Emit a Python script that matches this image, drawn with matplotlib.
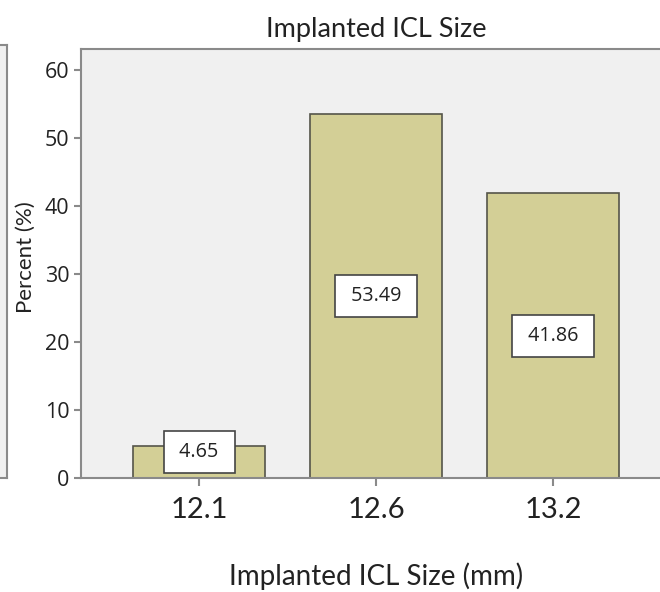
import numpy as np
import matplotlib.pyplot as plt

plt.rcParams['font.family'] = ['Open Sans', 'DejaVu Sans']

sizes = ["12.1", "12.6", "13.2"]          # ICL size (mm)
percent = [4.65, 53.49, 41.86]            # Percent of eyes
yticks = [0, 10, 20, 30, 40, 50, 60]

bar_color = "#d3cf96"
edge_col = "#55554a"
bg = "#f0f0f0"
spine_col = "#8a8a8a"
txt = "#222222"
calib = ['Lato', 'DejaVu Sans']

fig = plt.figure(figsize=(6.6, 5.92), dpi=100)
W, H = 660, 592

# piece of the neighbouring panel at the far left
ax0 = fig.add_axes([-0.1, (H - 478) / H, 0.1 + 7 / W, (478 - 45) / H])
ax0.set_facecolor(bg)
ax0.set_xticks([])
ax0.set_yticks([])
for s in ax0.spines.values():
    s.set_color(spine_col)
    s.set_linewidth(1.5)

# main panel (its right side runs off the picture)
ax = fig.add_axes([81 / W, (H - 478) / H, (671 - 81) / W, (478 - 49) / H])
ax.set_facecolor(bg)
x = np.arange(len(sizes))
ax.bar(x, percent, width=0.745, color=bar_color, edgecolor=edge_col, linewidth=1.2)

for xi, v in zip(x, percent):
    ax.text(xi, max(v / 2, 3.8), f" {v:.2f} ", ha="center", va="center", fontsize=14.2,
            color=txt,
            bbox=dict(boxstyle="square,pad=0.55", fc="white", ec="#444444", lw=1.2))

ax.set_xlim(-0.667, 2.667)
ax.set_ylim(0, 63.1)
ax.set_xticks(x)
ax.set_xticklabels(sizes, fontsize=21, color=txt, family=calib)
ax.set_yticks(yticks)
ax.tick_params(axis="y", labelsize=15.5, colors=spine_col, labelcolor=txt, length=5, width=1.5)
ax.tick_params(axis="x", colors=spine_col, labelcolor=txt, length=6, width=1.5, pad=8)
for s in ax.spines.values():
    s.set_color(spine_col)
    s.set_linewidth(1.5)

ax.set_title("Implanted ICL Size", fontsize=19.5, color=txt, pad=9, family=calib)
ax.set_ylabel("Percent (%)", fontsize=16, color=txt, family=calib)
ax.yaxis.set_label_coords(-0.076, 0.515)
fig.text(376 / W, 1 - 576 / H, "Implanted ICL Size (mm)", ha="center", va="center",
         fontsize=20, color=txt, family=calib)

fig.savefig("out.png", dpi=100)
